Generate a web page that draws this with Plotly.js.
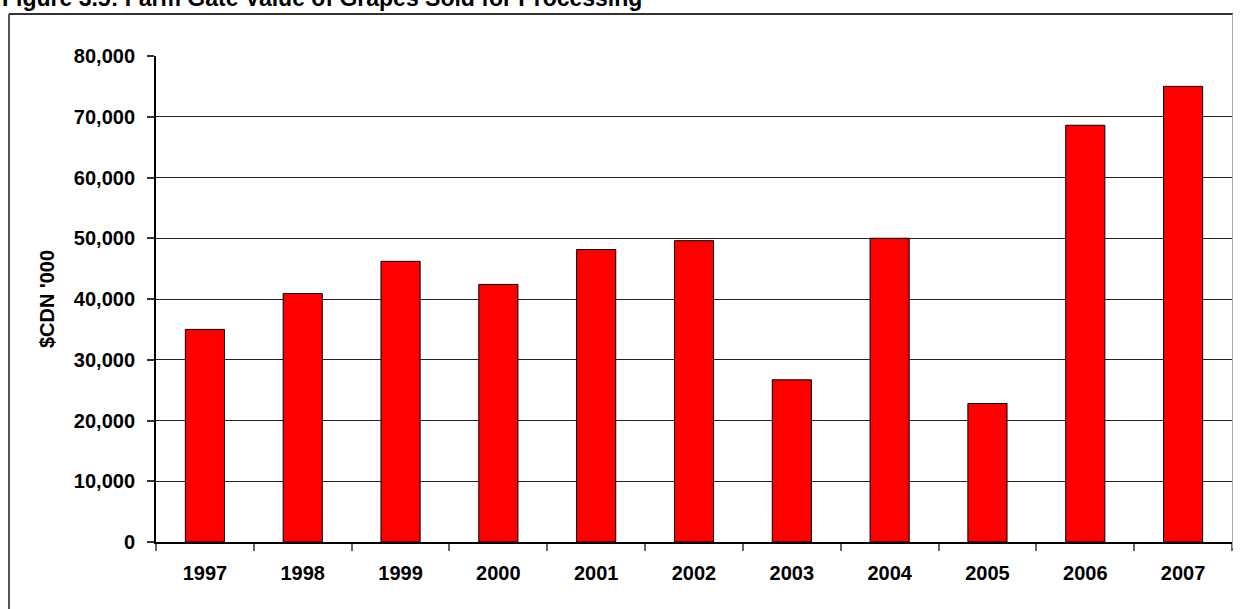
<!DOCTYPE html>
<html>
<head>
<meta charset="utf-8">
<script src="https://cdn.plot.ly/plotly-3.0.1.min.js"></script>
<style>html,body{margin:0;padding:0;background:#fff;}#chart{width:1244px;height:609px;}</style>
</head>
<body>
<div id="chart"></div>
<script>
const years = ["1997","1998","1999","2000","2001","2002","2003","2004","2005","2006","2007"];
const values = [35000, 40900, 46200, 42400, 48150, 49600, 26700, 50000, 22800, 68600, 75000];
const yTicks = [0, 10000, 20000, 30000, 40000, 50000, 60000, 70000, 80000];
const titleText = "Figure 3.5: Farm Gate Value of Grapes Sold for Processing";
const yTitle = "$CDN '000";

const W = 1244, H = 609, L = 156, R = 12, T = 56, B = 67;
const pw = W - L - R, ph = H - T - B;
const px = x => (x - L) / pw;
const py = y => (H - B - y) / ph;

const font = {family: "Arial, 'Liberation Sans', sans-serif", size: 20, color: "#000", weight: "bold"};

Plotly.newPlot("chart", [{
  type: "bar",
  x: years,
  y: values,
  marker: {color: "#ff0000", line: {color: "#000", width: 1}},
  hoverinfo: "x+y"
}], {
  width: W, height: H,
  margin: {l: L, r: R, t: T, b: B, pad: 0},
  paper_bgcolor: "#fff", plot_bgcolor: "#fff",
  showlegend: false,
  bargap: 0.6,
  font: font,
  xaxis: {
    type: "category",
    tickson: "boundaries",
    ticks: "outside", ticklen: 7, tickwidth: 2, tickcolor: "#666",
    showline: true, linecolor: "#000", linewidth: 2,
    showgrid: false, zeroline: false,
    tickfont: font,
    ticklabelstandoff: 12,
    fixedrange: true
  },
  yaxis: {
    range: [0, 80000],
    tickvals: yTicks,
    tickformat: ",d",
    ticks: "outside", ticklen: 7, tickwidth: 2, tickcolor: "#333",
    showline: true, linecolor: "#000", linewidth: 2,
    showgrid: true, gridcolor: "#222", gridwidth: 1,
    zeroline: false,
    tickfont: font,
    ticklabelstandoff: 8,
    title: {text: yTitle, font: font, standoff: 14},
    fixedrange: true
  },
  annotations: [{
    text: titleText, xref: "paper", yref: "paper",
    x: px(0), y: py(-2), xanchor: "left", yanchor: "middle",
    showarrow: false, font: {family: font.family, size: 23, color: "#000", weight: "bold"}
  }],
  shapes: [
    {type: "line", xref: "paper", yref: "paper", x0: px(9), x1: px(1233), y0: py(14), y1: py(14), line: {color: "#333", width: 2}},
    {type: "line", xref: "paper", yref: "paper", x0: px(9), x1: px(9), y0: py(14), y1: py(615), line: {color: "#555", width: 2}},
    {type: "line", xref: "paper", yref: "paper", x0: px(1232.5), x1: px(1232.5), y0: py(14), y1: py(548), line: {color: "#aaa", width: 1}}
  ]
}, {displayModeBar: false, staticPlot: true});
</script>
</body>
</html>
